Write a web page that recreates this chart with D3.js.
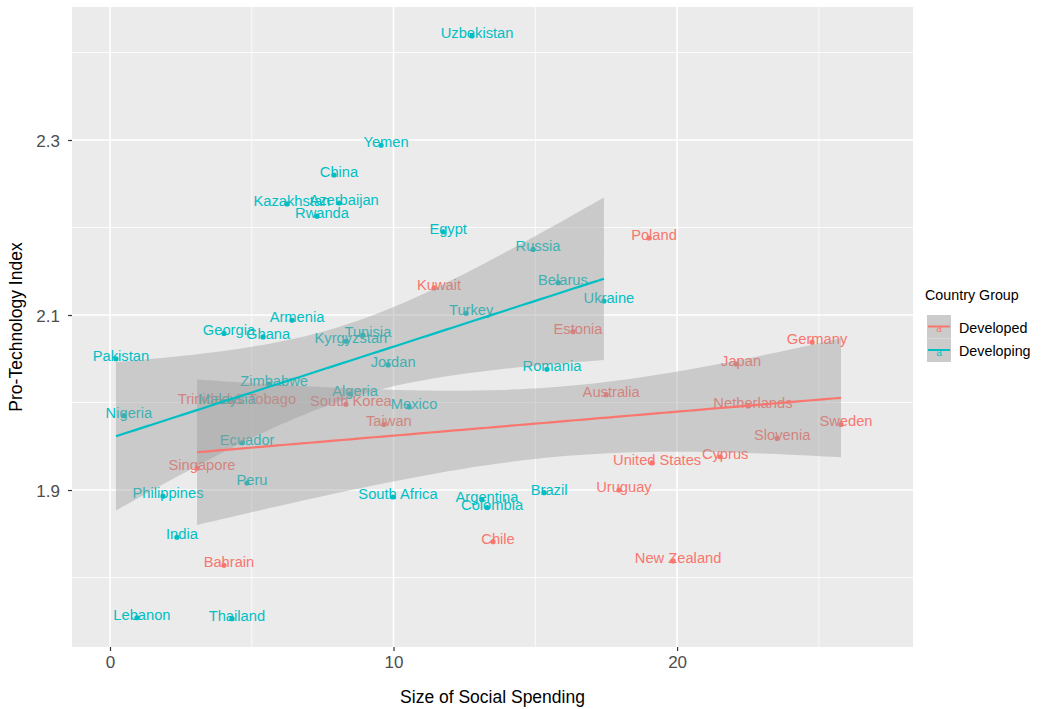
<!DOCTYPE html>
<html>
<head>
<meta charset="utf-8">
<script src="https://cdn.jsdelivr.net/npm/d3@7"></script>
<style>
  html, body { margin: 0; padding: 0; background: #ffffff; }
  svg { display: block; font-family: "Liberation Sans", Arial, Helvetica, sans-serif; }
</style>
</head>
<body>
<svg id="chart" width="1042" height="709"></svg>
<script>
// ---- data -------------------------------------------------------------
const developingNames = ["Uzbekistan","Yemen","China","Kazakhstan","Azerbaijan","Rwanda","Egypt","Russia",
  "Belarus","Ukraine","Turkey","Armenia","Georgia","Ghana","Tunisia","Kyrgyzstan","Pakistan","Jordan",
  "Romania","Zimbabwe","Algeria","Malaysia","Mexico","Nigeria","Ecuador","Peru","Philippines",
  "South Africa","Brazil","Argentina","Colombia","India","Lebanon","Thailand"];
const developingSpending = [12.77,9.56,7.90,6.24,8.08,7.30,11.75,14.92,
  15.80,17.42,12.56,6.42,4.02,5.40,8.92,8.32,0.21,9.81,
  15.41,5.61,8.47,3.95,10.55,0.49,4.66,4.83,1.87,
  9.98,15.31,13.12,13.30,2.36,0.95,4.30];
const developingIndex = [2.419,2.294,2.260,2.227,2.228,2.213,2.195,2.175,
  2.137,2.116,2.102,2.094,2.079,2.075,2.077,2.070,2.050,2.043,
  2.038,2.021,2.010,2.001,1.995,1.985,1.954,1.908,1.893,
  1.892,1.897,1.889,1.880,1.846,1.754,1.753];

const developedNames = ["Poland","Kuwait","Estonia","Germany","Japan","Australia","Trinidad & Tobago",
  "South Korea","Netherlands","Taiwan","Sweden","Slovenia","Cyprus","United States","Singapore",
  "Uruguay","Chile","Bahrain","New Zealand"];
const developedSpending = [19.01,11.43,16.33,24.76,22.08,17.50,4.30,
  8.32,22.50,9.66,25.78,23.53,21.52,19.12,3.07,
  17.95,13.51,4.02,19.86];
const developedIndex = [2.188,2.131,2.081,2.069,2.044,2.009,2.001,
  1.998,1.996,1.975,1.975,1.959,1.938,1.931,1.925,
  1.900,1.841,1.814,1.819];

const groupNames = ["Developed", "Developing"];
const groupColors = ["#F8766D", "#00BFC4"];

const xTicks = [0, 10, 20];
const xMinor = [5, 15, 25];
const yTicks = [1.9, 2.1, 2.3];
const yMinor = [1.8, 2.0, 2.2, 2.4];
const xDomain = [-1.34, 28.32];
const yDomain = [1.7206, 2.452];
const confLevel = 0.90;

// ---- layout -----------------------------------------------------------
const panel = { left: 72, top: 7, right: 913, bottom: 647 };
const svg = d3.select("#chart");

const x = d3.scaleLinear().domain(xDomain).range([panel.left, panel.right]);
const y = d3.scaleLinear().domain(yDomain).range([panel.bottom, panel.top]);

const groups = [
  { name: groupNames[0], color: groupColors[0],
    pts: developedNames.map((n, i) => ({ name: n, x: developedSpending[i], y: developedIndex[i] })) },
  { name: groupNames[1], color: groupColors[1],
    pts: developingNames.map((n, i) => ({ name: n, x: developingSpending[i], y: developingIndex[i] })) }
];

// ---- panel background and grid -----------------------------------------
svg.append("rect")
  .attr("x", panel.left).attr("y", panel.top)
  .attr("width", panel.right - panel.left).attr("height", panel.bottom - panel.top)
  .attr("fill", "#EBEBEB");

const grid = svg.append("g");
grid.selectAll("line.ymin").data(yMinor).join("line")
  .attr("x1", panel.left).attr("x2", panel.right)
  .attr("y1", d => y(d)).attr("y2", d => y(d))
  .attr("stroke", "#fff").attr("stroke-width", 0.8);
grid.selectAll("line.xmin").data(xMinor).join("line")
  .attr("y1", panel.top).attr("y2", panel.bottom)
  .attr("x1", d => x(d)).attr("x2", d => x(d))
  .attr("stroke", "#fff").attr("stroke-width", 0.8);
grid.selectAll("line.ymaj").data(yTicks).join("line")
  .attr("x1", panel.left).attr("x2", panel.right)
  .attr("y1", d => y(d)).attr("y2", d => y(d))
  .attr("stroke", "#fff").attr("stroke-width", 1.6);
grid.selectAll("line.xmaj").data(xTicks).join("line")
  .attr("y1", panel.top).attr("y2", panel.bottom)
  .attr("x1", d => x(d)).attr("x2", d => x(d))
  .attr("stroke", "#fff").attr("stroke-width", 1.6);

// ---- axes ---------------------------------------------------------------
const xAxis = svg.append("g")
  .attr("transform", `translate(0,${panel.bottom})`)
  .call(d3.axisBottom(x).tickValues(xTicks).tickSize(4).tickPadding(5).tickFormat(d3.format("d")));
const yAxis = svg.append("g")
  .attr("transform", `translate(${panel.left},0)`)
  .call(d3.axisLeft(y).tickValues(yTicks).tickSize(4).tickPadding(8).tickFormat(d3.format(".1f")));
[xAxis, yAxis].forEach(a => {
  a.select(".domain").remove();
  a.selectAll(".tick line").attr("stroke", "#333333").attr("stroke-width", 1.2);
  a.selectAll(".tick text").attr("fill", "#4D4D4D").style("font-size", "17px");
});
yAxis.selectAll(".tick text").attr("dy", "0.36em");

svg.append("text")
  .attr("x", (panel.left + panel.right) / 2).attr("y", 703)
  .attr("text-anchor", "middle").attr("fill", "#000")
  .style("font-size", "17.5px").text("Size of Social Spending");
svg.append("text")
  .attr("transform", `translate(22,${(panel.top + panel.bottom) / 2}) rotate(-90)`)
  .attr("text-anchor", "middle").attr("fill", "#000")
  .style("font-size", "17.5px").text("Pro-Technology Index");

// ---- points and labels ----------------------------------------------------
const plot = svg.append("g");
groups.forEach(g => {
  plot.append("g").selectAll("circle").data(g.pts).join("circle")
    .attr("cx", d => x(d.x)).attr("cy", d => y(d.y)).attr("r", 2.6)
    .attr("fill", g.color);
});
groups.forEach(g => {
  plot.append("g").selectAll("text").data(g.pts).join("text")
    .attr("x", d => x(d.x) + 5).attr("y", d => y(d.y) + 2)
    .attr("text-anchor", "middle").attr("fill", g.color)
    .style("font-size", "14.7px")
    .text(d => d.name);
});

// ---- linear fit with confidence band --------------------------------------
function normInv(p) {           // upper-tail normal quantile, Abramowitz & Stegun 26.2.23
  const t = Math.sqrt(-2 * Math.log(p));
  return t - (2.515517 + 0.802853 * t + 0.010328 * t * t) /
             (1 + 1.432788 * t + 0.189269 * t * t + 0.001308 * t * t * t);
}
function tInv(p, nu) {          // Cornish-Fisher expansion of Student t quantile
  const z = normInv(p);
  return z + (z ** 3 + z) / (4 * nu) + (5 * z ** 5 + 16 * z ** 3 + 3 * z) / (96 * nu * nu);
}
function fitLine(pts) {
  const n = pts.length;
  const mx = d3.mean(pts, d => d.x), my = d3.mean(pts, d => d.y);
  const sxx = d3.sum(pts, d => (d.x - mx) ** 2);
  const sxy = d3.sum(pts, d => (d.x - mx) * (d.y - my));
  const b = sxy / sxx, a = my - b * mx;
  const sse = d3.sum(pts, d => (d.y - a - b * d.x) ** 2);
  const s = Math.sqrt(sse / (n - 2));
  const tc = tInv((1 - confLevel) / 2, n - 2);
  const [x0, x1] = d3.extent(pts, d => d.x);
  return d3.range(81).map(i => {
    const xv = x0 + (x1 - x0) * i / 80;
    const fit = a + b * xv;
    const half = tc * s * Math.sqrt(1 / n + (xv - mx) ** 2 / sxx);
    return { x: xv, fit, lo: fit - half, hi: fit + half };
  });
}

const smooth = svg.append("g");
const fits = groups.map(g => ({ g, curve: fitLine(g.pts) }));
fits.forEach(({ curve }) => {
  smooth.append("path").datum(curve)
    .attr("d", d3.area().x(d => x(d.x)).y0(d => y(d.lo)).y1(d => y(d.hi)))
    .attr("fill", "#999999").attr("fill-opacity", 0.4);
});
fits.forEach(({ g, curve }) => {
  smooth.append("path").datum(curve)
    .attr("d", d3.line().x(d => x(d.x)).y(d => y(d.fit)))
    .attr("fill", "none").attr("stroke", g.color).attr("stroke-width", 2.2);
});

// ---- legend ---------------------------------------------------------------
const legend = svg.append("g");
legend.append("text").attr("x", 925).attr("y", 300)
  .attr("fill", "#000").style("font-size", "14.3px").text("Country Group");
groups.forEach((g, i) => {
  const ky = 315 + i * 23.5;
  legend.append("rect").attr("x", 927).attr("y", ky).attr("width", 24).attr("height", 23.5)
    .attr("fill", "#CBCBCB");
  legend.append("line").attr("x1", 928).attr("x2", 950)
    .attr("y1", ky + 11.5).attr("y2", ky + 11.5)
    .attr("stroke", g.color).attr("stroke-width", 2);
  legend.append("text").attr("x", 939).attr("y", ky + 17)
    .attr("text-anchor", "middle").attr("fill", g.color)
    .style("font-size", "10px").text("a");
  legend.append("text").attr("x", 959).attr("y", ky + 17.5)
    .attr("fill", "#000").style("font-size", "14.3px").text(g.name);
});
</script>
</body>
</html>
